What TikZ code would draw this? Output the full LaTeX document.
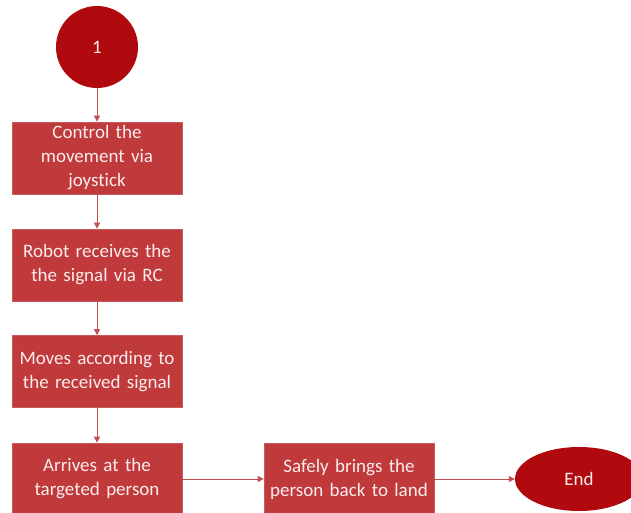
\documentclass[tikz,border=0pt]{standalone}
\usepackage{fontspec}
\setmainfont[RawFeature={-liga,-dlig}]{Carlito}
\usetikzlibrary{shapes.geometric,arrows.meta}
\definecolor{boxred}{HTML}{C0393B}
\definecolor{boxedge}{HTML}{C85A5A}
\definecolor{darkred}{HTML}{B00A0F}
\definecolor{linered}{HTML}{C0504D}
\definecolor{txt}{HTML}{FBEDED}
\begin{document}
\begin{tikzpicture}[x=1pt,y=-1pt,
  stepbox/.style={rectangle, fill=boxred, draw=boxedge, line width=0.6pt,
    minimum width=170pt, minimum height=72pt, inner sep=0pt, align=center,
    text=txt, font=\fontsize{19}{24}\selectfont, text width=168pt},
  term/.style={fill=darkred, draw=none, text=txt, font=\fontsize{19}{24}\selectfont},
  conn/.style={draw=linered, line width=0.7pt, -{Triangle[length=6pt,width=6pt]}}]
\useasboundingbox (0,0) rectangle (631,513);
\begin{scope}
\clip (0,0) rectangle (631,513);
\node[term, circle, minimum size=82pt, inner sep=0pt] (start) at (97,47) {1};
\node[stepbox] (b1) at (97,158) {Control the\\movement via\\joystick};
\node[stepbox] (b2) at (97,265) {Robot receives the\\the signal via RC};
\node[stepbox] (b3) at (97,371.5) {Moves according to\\the received signal};
\node[stepbox] (b4) at (97,479) {Arrives at the\\targeted person};
\node[stepbox] (b5) at (349,479) {Safely brings the\\person back to land};
\node[term, ellipse, minimum width=128pt, minimum height=64pt, inner sep=0pt] (end) at (579,479) {End};
\draw[conn] (start) -- (b1);
\draw[conn] (b1) -- (b2);
\draw[conn] (b2) -- (b3);
\draw[conn] (b3) -- (b4);
\draw[conn] (b4) -- (b5);
\draw[conn] (b5) -- (end);
\end{scope}
\end{tikzpicture}
\end{document}
